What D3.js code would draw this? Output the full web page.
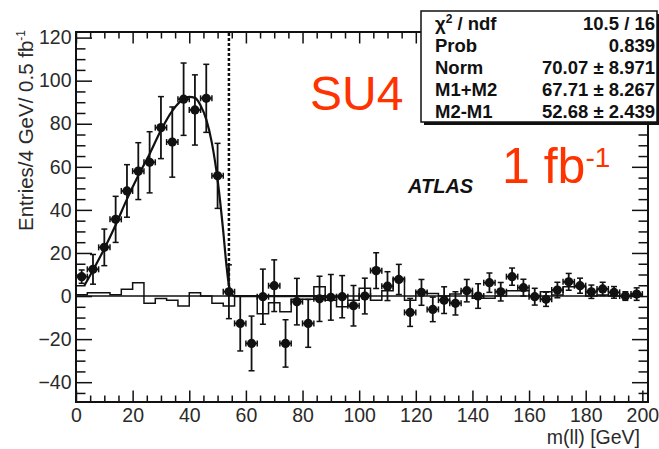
<!DOCTYPE html>
<html>
<head>
<meta charset="utf-8">
<script src="https://cdn.jsdelivr.net/npm/d3@7"></script>
<style>
  html, body { margin: 0; padding: 0; background: #fff; }
  svg { display: block; }
  text { font-family: "Liberation Sans", Arial, Helvetica, sans-serif; }
</style>
</head>
<body>
<svg id="chart" width="659" height="449"></svg>
<script>
// ---------- data ----------
const binCenters = [2,6,10,14,18,22,26,30,34,38,42,46,50,54,58,62,66,70,74,78,82,86,90,94,98,102,106,110,114,118,122,126,130,134,138,142,146,150,154,158,162,166,170,174,178,182,186,190,194,198];
const entries = [9.0,12.4,22.6,35.6,48.8,58,62.1,78.2,71.5,91.4,86.4,91.8,55.8,2.0,-12.7,-22,-0.3,4.8,-22,-2.6,-12.7,-1.3,-0.6,-0.3,-4.5,0,11.8,4.6,7.7,-7.6,1.7,-6.2,-1.9,-3.4,2.5,0,6.2,2.0,9.0,3.9,-0.3,-1.5,2.8,6.6,4.8,2.0,3.3,1.7,0,0.9];
const errors = [3.1,6.9,8.5,10.7,12.2,13.2,14.2,14.4,16.3,16.8,16.3,15.8,15.1,12.5,12.8,12.7,12.8,12,11,10.8,11.1,10.5,10.6,9.8,9.4,8.3,8.3,6.7,7,6.5,6,5.7,6.2,5.4,5.2,5.7,4.5,4.3,4,3.9,3.9,3.3,3.6,3.9,3.5,3.1,3.1,2.7,2,2.9];
const binHalfWidth = 2;
// second histogram (step outline), 4 GeV bins from 0 to 200
const histEdges = d3.range(0, 204, 4);
const histValues = [0.6,1.5,1.5,0.6,3.1,6.2,-3.4,-1.1,-1.9,-4.6,1.5,0,-3.4,-4.6,0,0,-8.2,-3.1,-7.3,-1.5,-1.5,4.3,-1.9,-5,-1.9,3.6,-1.9,2.5,8.2,-1.9,2,1.2,0,0.9,2.5,-1,-1,0,2.5,2.5,0,2,0.5,4.3,4.3,0,0.5,0,0,0];
// fit function
const fitX = [3,6,10,14,18,22,26,30,34,37,40,42,44,46,48,50,52,53,54,55,56,88];
const fitY = [5,12,22,33,45,56,66,77,86,90.5,92.5,92,88.5,82,71,54,30,16,5,1,0,0];
const edgeMass = 54;
const xTicks = [0,20,40,60,80,100,120,140,160,180,200];
const yTicks = [-40,-20,0,20,40,60,80,100,120];
const statsLabels = ["χ² / ndf", "Prob", "Norm", "M1+M2", "M2-M1"];
const statsValues = ["10.5 / 16", "0.839", "70.07 ± 8.971", "67.71 ± 8.267", "52.68 ± 2.439"];

// ---------- layout ----------
const L = 76, R = 648, T = 32, B = 402;
const svg = d3.select("#chart");
const x = d3.scaleLinear().domain([0, 202]).range([L, R]);
const y = d3.scaleLinear().domain([-49.2, 122.6]).range([B, T]);
const ink = "#111";

// zero line
svg.append("line").attr("x1", x(0)).attr("x2", x(200)).attr("y1", y(0)).attr("y2", y(0))
  .attr("stroke", ink).attr("stroke-width", 1.5);

// step histogram
let d = `M${x(histEdges[0])},${y(0)}`;
histValues.forEach((v, i) => {
  d += `V${y(v)}H${x(histEdges[i + 1])}`;
});
d += `V${y(0)}`;
svg.append("path").attr("d", d).attr("fill", "none").attr("stroke", ink).attr("stroke-width", 1.5);

// dashed edge line
svg.append("line").attr("x1", x(edgeMass)).attr("x2", x(edgeMass)).attr("y1", y(0)).attr("y2", T)
  .attr("stroke", ink).attr("stroke-width", 2.5).attr("stroke-dasharray", "3,2");

// fit curve
const fitLine = d3.line().x((d, i) => x(fitX[i])).y((d, i) => y(fitY[i])).curve(d3.curveMonotoneX);
svg.append("path").datum(fitX).attr("d", fitLine).attr("fill", "none").attr("stroke", ink).attr("stroke-width", 2.2);

// error bars + markers
const g = svg.append("g");
binCenters.forEach((m, i) => {
  const cx = x(m), cy = y(entries[i]);
  const yt = y(entries[i] + errors[i]), yb = y(entries[i] - errors[i]);
  const xl = x(m - binHalfWidth), xr = x(m + binHalfWidth);
  g.append("line").attr("x1", cx).attr("x2", cx).attr("y1", yt).attr("y2", yb).attr("stroke", ink).attr("stroke-width", 1.8);
  g.append("line").attr("x1", cx - 3).attr("x2", cx + 3).attr("y1", yt).attr("y2", yt).attr("stroke", ink).attr("stroke-width", 1.5);
  g.append("line").attr("x1", cx - 3).attr("x2", cx + 3).attr("y1", yb).attr("y2", yb).attr("stroke", ink).attr("stroke-width", 1.5);
  g.append("line").attr("x1", xl).attr("x2", xr).attr("y1", cy).attr("y2", cy).attr("stroke", ink).attr("stroke-width", 1.8);
  g.append("line").attr("x1", xl).attr("x2", xl).attr("y1", cy - 3).attr("y2", cy + 3).attr("stroke", ink).attr("stroke-width", 1.5);
  g.append("line").attr("x1", xr).attr("x2", xr).attr("y1", cy - 3).attr("y2", cy + 3).attr("stroke", ink).attr("stroke-width", 1.5);
  g.append("circle").attr("cx", cx).attr("cy", cy).attr("r", 4.6).attr("fill", ink);
});

// ---------- axes (ROOT style, ticks inward) ----------
const xMinor = d3.range(0, 202, 5).filter(v => v % 20 !== 0);
const yMinor = d3.range(-45, 122, 5).filter(v => v % 20 !== 0);
const labelColor = "#2a2a2a";

function styleAxis(sel) {
  sel.select(".domain").remove();
  sel.selectAll(".tick line").attr("stroke", ink).attr("stroke-width", 1.5);
  sel.selectAll("text").attr("font-size", 19.5).attr("fill", labelColor)
    .attr("font-family", '"Liberation Sans", Arial, sans-serif');
}
// bottom
svg.append("g").attr("transform", `translate(0,${B})`)
  .call(d3.axisBottom(x).tickValues(xTicks).tickSize(-11.5).tickPadding(6).tickFormat(d3.format("d")))
  .call(styleAxis);
svg.append("g").attr("transform", `translate(0,${B})`)
  .call(d3.axisBottom(x).tickValues(xMinor).tickSize(-6.5).tickFormat(""))
  .call(styleAxis);
// top
svg.append("g").attr("transform", `translate(0,${T})`)
  .call(d3.axisTop(x).tickValues(xTicks).tickSize(-11.5).tickFormat(""))
  .call(styleAxis);
svg.append("g").attr("transform", `translate(0,${T})`)
  .call(d3.axisTop(x).tickValues(xMinor).tickSize(-6.5).tickFormat(""))
  .call(styleAxis);
// left
svg.append("g").attr("transform", `translate(${L},0)`)
  .call(d3.axisLeft(y).tickValues(yTicks).tickSize(-16).tickPadding(4.5).tickFormat(d3.format("d")))
  .call(styleAxis);
svg.append("g").attr("transform", `translate(${L},0)`)
  .call(d3.axisLeft(y).tickValues(yMinor).tickSize(-9.5).tickFormat(""))
  .call(styleAxis);
// right
svg.append("g").attr("transform", `translate(${R},0)`)
  .call(d3.axisRight(y).tickValues(yTicks).tickSize(-16).tickFormat(""))
  .call(styleAxis);
svg.append("g").attr("transform", `translate(${R},0)`)
  .call(d3.axisRight(y).tickValues(yMinor).tickSize(-9.5).tickFormat(""))
  .call(styleAxis);

// frame
svg.append("rect").attr("x", L).attr("y", T).attr("width", R - L).attr("height", B - T)
  .attr("fill", "none").attr("stroke", ink).attr("stroke-width", 2);

// axis titles
svg.append("text").attr("x", R - 8).attr("y", 444).attr("text-anchor", "end")
  .attr("font-size", 19.5).attr("fill", labelColor).text("m(ll) [GeV]");
const yt = svg.append("text").attr("transform", "translate(33,30) rotate(-90)")
  .attr("text-anchor", "end").attr("font-size", 20.5).attr("fill", labelColor);
yt.append("tspan").text("Entries/4 GeV/ 0.5 fb");
yt.append("tspan").attr("font-size", 12).attr("dy", -8).text("-1");

// ---------- annotations ----------
svg.append("text").attr("x", 408).attr("y", 193).attr("font-size", 20).attr("font-weight", "bold")
  .attr("font-style", "italic").attr("fill", ink).text("ATLAS");
const red = "#ff3300";
svg.append("text").attr("x", 310).attr("y", 110).attr("font-size", 48)
  .attr("font-family", '"DejaVu Sans", sans-serif').attr("fill", red).text("SU4");
const fb = svg.append("text").attr("x", 502).attr("y", 183).attr("font-size", 50)
  .attr("font-family", '"DejaVu Sans", sans-serif').attr("fill", red);
fb.append("tspan").text("1 fb");
fb.append("tspan").attr("font-size", 28).attr("dy", -16).text("-1");

// ---------- stats box ----------
const bx = 421, by = 11, bw = 236, bh = 111;
const valueWidths = [null, null, 113, 113, 113];
svg.append("rect").attr("x", bx + 3).attr("y", by + 3).attr("width", bw).attr("height", bh).attr("fill", ink);
svg.append("rect").attr("x", bx).attr("y", by).attr("width", bw).attr("height", bh)
  .attr("fill", "#fff").attr("stroke", ink).attr("stroke-width", 1.5);
statsLabels.forEach((s, i) => {
  const yy = 30 + i * 22.1;
  const t = svg.append("text").attr("x", 435).attr("y", yy).attr("font-size", 18.5).attr("font-weight", "bold").attr("fill", ink);
  if (s.startsWith("χ")) {
    t.append("tspan").text("χ");
    t.append("tspan").attr("font-size", 12).attr("dy", -7).text("2");
    t.append("tspan").attr("dy", 7).text(" / ndf");
  } else {
    t.text(s);
  }
  const v = svg.append("text").attr("y", yy).attr("font-size", 18.5)
    .attr("font-weight", "bold").attr("fill", ink).text(statsValues[i]);
  if (valueWidths[i]) {
    v.attr("x", 655 - valueWidths[i]).attr("textLength", valueWidths[i]).attr("lengthAdjust", "spacingAndGlyphs");
  } else {
    v.attr("x", 655).attr("text-anchor", "end");
  }
});
</script>
</body>
</html>
